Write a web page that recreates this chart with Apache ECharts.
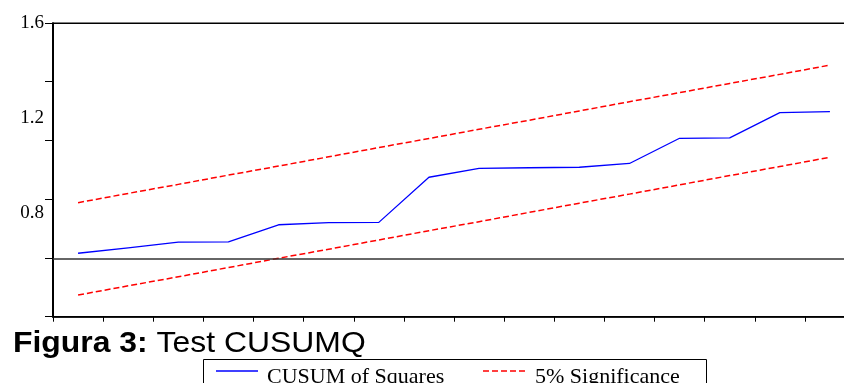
<!DOCTYPE html>
<html>
<head>
<meta charset="utf-8">
<script src="https://cdn.jsdelivr.net/npm/echarts@6/dist/echarts.min.js"></script>
<style>
html,body{margin:0;padding:0;background:#fff;}
#c{width:844px;height:383px;}
</style>
</head>
<body>
<div id="c"></div>
<script>
// Observations (x labels are hidden in the reference)
var categories = ['1','2','3','4','5','6','7','8','9','10','11','12','13','14','15','16'];
// CUSUM of Squares (read in units of the visible y labels)
var cusumSq = [0.632, 0.655, 0.679, 0.680, 0.752, 0.761, 0.762, 0.952, 0.989, 0.992, 0.994, 1.010, 1.116, 1.118, 1.224, 1.228];
// 5% significance bounds
var upperBound = [0.845, 0.884, 0.922, 0.961, 0.999, 1.038, 1.077, 1.115, 1.154, 1.192, 1.231, 1.270, 1.308, 1.347, 1.385, 1.424];
var lowerBound = [0.456, 0.495, 0.533, 0.572, 0.611, 0.649, 0.688, 0.727, 0.765, 0.804, 0.843, 0.881, 0.920, 0.959, 0.997, 1.036];
// Reference (zero) line
var refLine = 0.611;
// Y axis: labelled values and tick-mark values
var yLabels = [0.8, 1.2, 1.6];
var yTicks = [0.365, 0.611, 0.859, 1.106, 1.354, 1.6];
var yMin = 0.365, yMax = 1.6;
// Legend entries
var legendNames = ['CUSUM of Squares', '5% Significance'];

var serifFont = '"Liberation Serif", "Times New Roman", serif';

var chart = echarts.init(document.getElementById('c'), null, {renderer: 'canvas'});
chart.setOption({
  animation: false,
  backgroundColor: '#fff',
  graphic: [
    {
      type: 'group',
      left: 13,
      top: 329,
      scaleX: 1.1,
      children: [
        {
          type: 'text',
          left: 0,
          top: 0,
          style: {
            text: '{b|Figura 3:} Test CUSUMQ',
            font: 'normal 29px "Liberation Sans", Arial, sans-serif',
            fill: '#000',
            rich: {
              b: {fontFamily: '"Liberation Sans", Arial, sans-serif', fontSize: 29, fontWeight: 'bold', fill: '#000'}
            }
          }
        }
      ]
    },
    {
      type: 'rect',
      shape: {x: 203.5, y: 359.5, width: 503, height: 40},
      style: {fill: 'none', stroke: '#000', lineWidth: 1},
      z: 10
    },
    {
      type: 'line',
      shape: {x1: 216, y1: 371, x2: 258, y2: 371},
      style: {stroke: '#0000ff', lineWidth: 1.3},
      z: 10
    },
    {
      type: 'text',
      x: 267,
      y: 366,
      style: {text: legendNames[0], font: '22px ' + serifFont, fill: '#000', textVerticalAlign: 'top'},
      z: 10
    },
    {
      type: 'line',
      shape: {x1: 483, y1: 371, x2: 525, y2: 371},
      style: {stroke: '#ff0000', lineWidth: 1.5, lineDash: [6, 3]},
      z: 10
    },
    {
      type: 'text',
      x: 535,
      y: 366,
      style: {text: legendNames[1], font: '22px ' + serifFont, fill: '#000', textVerticalAlign: 'top'},
      z: 10
    }
  ],
  grid: {
    left: 53,
    width: 802,
    top: 23.3,
    bottom: 66.3,
    outerBoundsMode: 'none',
    containLabel: false,
    show: true,
    borderColor: '#000',
    borderWidth: 1.5,
    backgroundColor: 'transparent'
  },
  xAxis: {
    type: 'category',
    data: categories,
    boundaryGap: true,
    axisLine: {lineStyle: {color: '#000', width: 1.5}},
    axisTick: {show: true, length: 5, inside: false, lineStyle: {color: '#000', width: 1}},
    axisLabel: {show: false},
    splitLine: {show: false}
  },
  yAxis: {
    type: 'value',
    min: yMin,
    max: yMax,
    axisLine: {show: true, lineStyle: {color: '#000', width: 2}},
    axisTick: {show: true, length: 8, inside: false, customValues: yTicks, lineStyle: {color: '#000', width: 1}},
    axisLabel: {
      show: true,
      customValues: yLabels,
      margin: 9,
      formatter: function (v) { return v.toFixed(1); },
      fontFamily: serifFont,
      fontSize: 19,
      color: '#000'
    },
    splitLine: {show: false}
  },
  series: [
    {
      name: legendNames[0],
      type: 'line',
      data: cusumSq,
      symbol: 'none',
      lineStyle: {color: '#0000ff', width: 1.3},
      itemStyle: {color: '#0000ff'},
      z: 5,
      markLine: {
        silent: true,
        symbol: ['none', 'none'],
        label: {show: false},
        lineStyle: {color: '#333', width: 1.5, type: 'solid'},
        data: [{yAxis: refLine}]
      }
    },
    {
      name: legendNames[1],
      type: 'line',
      data: upperBound,
      symbol: 'none',
      lineStyle: {color: '#ff0000', width: 1.5, type: [6, 3]},
      itemStyle: {color: '#ff0000'},
      z: 4
    },
    {
      name: legendNames[1],
      type: 'line',
      data: lowerBound,
      symbol: 'none',
      lineStyle: {color: '#ff0000', width: 1.5, type: [6, 3]},
      itemStyle: {color: '#ff0000'},
      z: 4
    }
  ]
});
</script>
</body>
</html>
